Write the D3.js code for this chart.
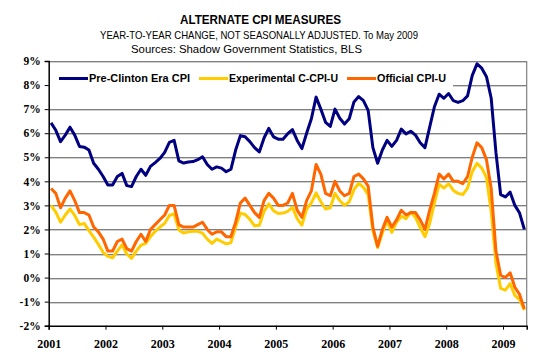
<!DOCTYPE html>
<html><head><meta charset="utf-8">
<script src="https://cdn.jsdelivr.net/npm/d3@7"></script>
<style>body{margin:0;background:#fff}</style>
</head><body>
<svg id="c" width="554" height="357"></svg>
<script>
// ---- data ----
const titleText = "ALTERNATE CPI MEASURES";
const subtitleText = "YEAR-TO-YEAR CHANGE, NOT SEASONALLY ADJUSTED. To May 2009";
const sourceText = "Sources: Shadow Government Statistics, BLS";
const seriesNames = ["Pre-Clinton Era CPI", "Experimental C-CPI-U", "Official CPI-U"];
const yearLabels = ["2001","2002","2003","2004","2005","2006","2007","2008","2009"];
const yTickValues = [-2,-1,0,1,2,3,4,5,6,7,8,9];
// monthly categories Jan 2001 .. May 2009
const months = d3.timeMonth.range(new Date(2001,0,1), new Date(2009,5,1));

const preClinton = [
 6.43,6.12,5.65,5.92,6.25,5.92,5.45,5.42,5.30,4.75,4.50,4.20,
 3.85,3.85,4.20,4.33,3.82,3.78,4.20,4.50,4.25,4.62,4.78,4.95,
 5.20,5.62,5.70,4.85,4.76,4.80,4.82,4.90,5.02,4.70,4.50,4.60,
 4.55,4.40,4.50,5.30,5.90,5.85,5.65,5.40,5.22,5.80,6.20,5.85,
 5.75,5.75,5.98,6.15,5.70,5.36,6.00,6.60,7.50,7.00,6.45,6.28,
 7.00,6.62,6.38,6.60,7.30,7.52,7.35,6.95,5.40,4.75,5.30,5.70,
 5.45,5.70,6.17,5.97,6.08,5.92,5.60,5.40,6.25,7.10,7.62,7.45,
 7.65,7.35,7.28,7.35,7.55,8.40,8.88,8.70,8.35,7.45,5.20,3.45,
 3.35,3.55,3.00,2.68,2.00];
const experimental = [
 3.00,2.72,2.30,2.60,2.85,2.58,2.20,2.25,1.95,1.68,1.38,1.05,
 0.88,0.82,1.10,1.36,0.98,0.80,1.10,1.35,1.42,1.70,1.92,2.10,
 2.25,2.58,2.65,1.98,1.85,1.90,1.92,1.92,1.85,1.60,1.42,1.60,
 1.50,1.40,1.45,2.10,2.68,2.62,2.42,2.15,2.17,2.75,3.06,2.78,
 2.66,2.68,2.75,2.92,2.45,2.18,2.85,3.10,3.52,3.15,2.85,2.90,
 3.50,3.20,3.00,3.15,3.65,3.92,3.75,3.45,1.95,1.25,1.85,2.35,
 1.88,2.30,2.55,2.45,2.72,2.50,2.08,1.70,2.25,3.10,3.88,3.72,
 3.90,3.62,3.50,3.45,3.72,4.40,4.75,4.55,4.15,2.75,0.60,-0.45,
 -0.52,-0.25,-0.74,-0.92,-1.35];
const official = [
 3.7,3.5,2.9,3.3,3.6,3.2,2.7,2.7,2.6,2.1,1.9,1.6,
 1.1,1.1,1.5,1.6,1.2,1.1,1.5,1.8,1.5,2.0,2.2,2.4,
 2.6,3.0,3.0,2.2,2.1,2.1,2.1,2.2,2.3,2.0,1.8,1.9,
 1.9,1.7,1.7,2.3,3.1,3.3,3.0,2.7,2.5,3.2,3.5,3.3,
 3.0,3.0,3.1,3.5,2.8,2.5,3.2,3.6,4.7,4.3,3.5,3.4,
 4.0,3.6,3.4,3.5,4.2,4.3,4.1,3.8,2.1,1.3,2.0,2.5,
 2.1,2.4,2.8,2.6,2.7,2.7,2.4,2.0,2.8,3.5,4.3,4.1,
 4.3,4.0,4.0,3.9,4.2,5.0,5.6,5.4,4.9,3.7,1.1,0.1,
 0.0,0.2,-0.4,-0.7,-1.3];
const seriesColors = ["#000080", "#FFCC00", "#FF6600"];

// ---- drawing ----
const svg = d3.select("#c");
const L = 48.7, R = 526.7, T = 61, B = 325.7;
const x = d3.scaleLinear().domain([0, months.length]).range([L, R]);
const y = d3.scaleLinear().domain([-2, 9]).range([B, T]);

svg.append("rect").attr("width",554).attr("height",357).attr("fill","#fff");

function fitText(sel, target){
  const w = sel.node().getComputedTextLength();
  const fs = parseFloat(sel.attr("font-size"));
  sel.attr("font-size", (fs*target/w).toFixed(2));
}
function stretchText(sel, target){
  sel.attr("textLength", target).attr("lengthAdjust","spacingAndGlyphs");
}

// titles
const t1 = svg.append("text").text(titleText).attr("x",260.5).attr("y",24)
  .attr("text-anchor","middle").attr("font-family","Liberation Sans, Arial, sans-serif")
  .attr("font-weight","bold").attr("font-size",12.5).attr("fill","#000");
stretchText(t1,161);
const t2 = svg.append("text").text(subtitleText).attr("x",259).attr("y",38.5)
  .attr("text-anchor","middle").attr("font-family","Liberation Sans, Arial, sans-serif")
  .attr("font-size",10.8).attr("fill","#000");
stretchText(t2,318);
const t3 = svg.append("text").text(sourceText).attr("x",246.5).attr("y",52.5)
  .attr("text-anchor","middle").attr("font-family","Liberation Sans, Arial, sans-serif")
  .attr("font-size",10.8).attr("fill","#000");
stretchText(t3,231);

// gridlines
const g = svg.append("g");
yTickValues.filter(v => v > -2).forEach(v => {
  const yy = Math.round(y(v)) + 0.5;
  g.append("line").attr("x1",L).attr("x2",R).attr("y1",yy).attr("y2",yy)
    .attr("stroke","#808080").attr("stroke-width",1);
  g.append("line").attr("x1",L).attr("x2",R).attr("y1",yy+1).attr("y2",yy+1)
    .attr("stroke","#d0d0d0").attr("stroke-width",1);
});
// right border
g.append("line").attr("x1",R).attr("x2",R).attr("y1",T).attr("y2",B)
  .attr("stroke","#808080").attr("stroke-width",1.2);

// legend background
svg.append("rect").attr("x",L+1).attr("y",67).attr("width",452-L).attr("height",26).attr("fill","#fff");

// axes
const yAxis = d3.axisLeft(y).tickValues(yTickValues).tickSize(4).tickPadding(4)
  .tickFormat(d => d + "%");
const ya = svg.append("g").attr("transform",`translate(${L},0)`).call(yAxis);
ya.select(".domain").attr("stroke","#000").attr("stroke-width",1.5);
ya.selectAll(".tick line").attr("stroke","#000");
ya.selectAll(".tick text").attr("font-family","Liberation Serif, Times New Roman, serif")
  .attr("font-weight","bold").attr("font-size",11.5).attr("fill","#000");

const xAxis = d3.axisBottom(x).tickValues(yearLabels.map((d,i)=>i*12)).tickSize(4).tickPadding(10)
  .tickFormat((d,i) => yearLabels[i]);
const xa = svg.append("g").attr("transform",`translate(0,${B})`).call(xAxis);
xa.select(".domain").attr("stroke","#000").attr("stroke-width",1.5);
xa.selectAll(".tick line").attr("stroke","#000");
xa.selectAll(".tick text").attr("font-family","Liberation Serif, Times New Roman, serif")
  .attr("font-weight","bold").attr("font-size",12).attr("fill","#000");

// series lines
const line = d3.line().x((d,i) => x(i+0.5)).y(d => y(d));
[preClinton, experimental, official].forEach((s,k) => {
  svg.append("path").datum(s).attr("d",line).attr("fill","none")
    .attr("stroke",seriesColors[k]).attr("stroke-width",3)
    .attr("stroke-linejoin","round").attr("stroke-linecap","butt");
});

// legend
const legendX = [59, 199, 347];
const legendW = [101, 109, 69];
seriesNames.forEach((n,k) => {
  svg.append("line").attr("x1",legendX[k]).attr("x2",legendX[k]+29).attr("y1",78.5).attr("y2",78.5)
    .attr("stroke",seriesColors[k]).attr("stroke-width",3);
  const tx = svg.append("text").text(n).attr("x",legendX[k]+30).attr("y",82.4)
    .attr("font-family","Liberation Sans, Arial, sans-serif").attr("font-weight","bold")
    .attr("font-size",10.5).attr("fill","#000");
  stretchText(tx, legendW[k]);
});
</script>
</body></html>
